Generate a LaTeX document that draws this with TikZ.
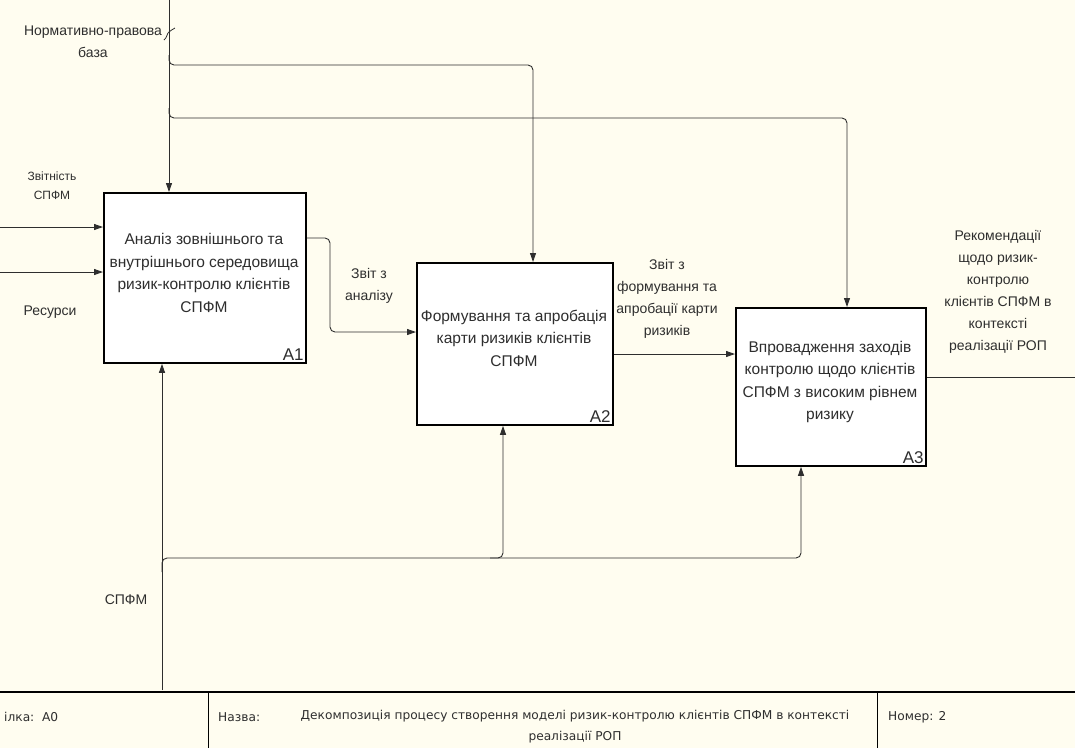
\documentclass[tikz,border=0pt]{standalone}
\usepackage{fontspec}
\setmainfont{Liberation Sans}
\newfontfamily\footfont{DejaVu Sans}
\usetikzlibrary{arrows.meta,calc}
\definecolor{paper}{HTML}{FFFDF0}
\definecolor{ink}{HTML}{2E2E2E}
\tikzset{
  func/.style={draw=black, line width=1.8pt, fill=white, anchor=north west,
    align=center, inner sep=0pt, text=ink, font=\fontsize{15.5}{22.5}\selectfont},
  flow/.style={draw=ink, line width=0.9pt, rounded corners=5pt},
  arr/.style={flow, -{Triangle[length=9pt,width=6pt]}},
  lbl/.style={align=center, text=ink, inner sep=0pt, font=\fontsize{14}{22}\selectfont},
  tag/.style={anchor=south east, text=ink, inner sep=3pt, font=\fontsize{17}{18}\selectfont},
  foot/.style={anchor=west, text=ink, inner sep=0pt, font=\footfont\fontsize{12.2}{21}\selectfont},
}
\begin{document}
\begin{tikzpicture}[x=1pt,y=-1pt]
\fill[paper] (0,0) rectangle (1075,748);
\useasboundingbox (0,0) rectangle (1075,748);

% activity boxes
\node[func, minimum width=202pt, minimum height=170pt] (a1) at (103,192) {};
\node[func, draw=none, fill=none, anchor=center] at (204,273)
  {Аналіз зовнішнього та\\внутрішнього середовища\\ризик-контролю клієнтів\\СПФМ};
\node[tag] at (a1.south east) {A1};

\node[func, minimum width=196pt, minimum height=162pt] (a2) at (416,262) {};
\node[func, draw=none, fill=none, anchor=center] at (514,338)
  {Формування та апробація\\карти ризиків клієнтів\\СПФМ};
\node[tag] at (a2.south east) {A2};

\node[func, minimum width=190pt, minimum height=158pt] (a3) at (735,307) {};
\node[func, draw=none, fill=none, anchor=center] at (830,382)
  {Впровадження заходів\\контролю щодо клієнтів\\СПФМ з високим рівнем\\ризику};
\node[tag] at (a3.south east) {A3};

% control: regulatory base
\coordinate (c0) at (169,0);
\coordinate (c1) at (169,55);
\coordinate (c2) at (169,108);
\coordinate (k2) at (533,65);
\coordinate (k3) at (847,118);
\draw[arr] (c0) -- (c0 |- a1.north);
\draw[arr] (c1) |- (k2) -- (k2 |- a2.north);
\draw[arr] (c2) |- (k3) -- (k3 |- a3.north);
\node[lbl] (law) at (93,42) {Нормативно-правова\\база};
\draw[ink, line width=0.8pt] (164,40) .. controls (167,38) and (167,33) .. (169,32)
  .. controls (171,31) and (172,29) .. (175,28);

% inputs
\coordinate (i1) at (0,227);
\coordinate (i2) at (0,272);
\draw[arr] (i1) -- (i1 -| a1.west);
\draw[arr] (i2) -- (i2 -| a1.west);
\node[lbl, font=\fontsize{12}{19}\selectfont] (rep) at (52,186) {Звітність\\СПФМ};
\node[lbl] (res) at (50,312) {Ресурси};

% A1 -> A2
\coordinate (o1) at (305,238);
\coordinate (t1) at (330,332);
\draw[arr] (o1 -| a1.east) -| (t1) -- (t1 -| a2.west);
\node[lbl] (r1) at (369,286) {Звіт з\\аналізу};

% A2 -> A3
\coordinate (o2) at (612,354);
\draw[arr] (o2 -| a2.east) -- (o2 -| a3.west);
\node[lbl] (r2) at (667,299) {Звіт з\\формування та\\апробації карти\\ризиків};

% A3 output
\coordinate (o3) at (1075,377);
\draw[flow] (o3 -| a3.east) -- (o3);
\node[lbl] (r3) at (998,292)
  {Рекомендації\\щодо ризик-\\контролю\\клієнтів СПФМ в\\контексті\\реалізації РОП};

% mechanism
\coordinate (m0) at (162,690);
\coordinate (m1) at (162,572);
\coordinate (m2) at (490,558);
\coordinate (k4) at (503,558);
\coordinate (k5) at (801,558);
\draw[arr] (m0) -- (m0 |- a1.south);
\draw[arr] (m1) |- (k5) -- (k5 |- a3.south);
\draw[arr] (m2) -| (k4 |- a2.south);
\node[lbl] (mech) at (126,600) {СПФМ};

% title block
\draw[black, line width=1.6pt] (0,692) -- (1075,692);
\draw[black, line width=1pt] (208,692) -- (208,748);
\draw[black, line width=1pt] (877,692) -- (877,748);
\node[foot] (node) at (4,717) {ілка:\ \ A0};
\node[foot] (name) at (218,717) {Назва:};
\node[foot, anchor=center, align=center] (title) at (575,727)
  {Декомпозиція процесу створення моделі ризик-контролю клієнтів СПФМ в контексті\\реалізації РОП};
\node[foot] (num) at (888,717) {Номер: 2};
\end{tikzpicture}
\end{document}
